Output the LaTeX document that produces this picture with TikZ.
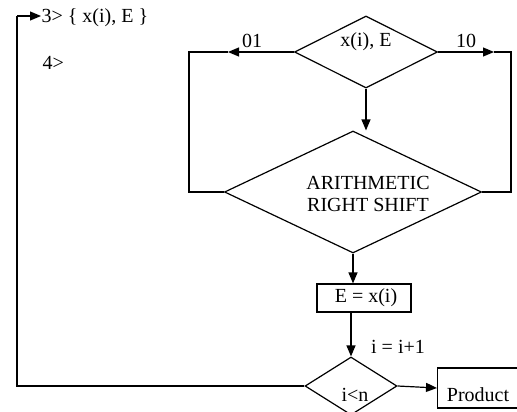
\documentclass[tikz,border=0pt]{standalone}
\usepackage{fontspec}
\setmainfont{Liberation Serif}
\usetikzlibrary{shapes.geometric,arrows.meta}
\begin{document}
\begin{tikzpicture}[x=1pt,y=-1pt,
  line width=1.2pt,
  every node/.style={font=\fontsize{20}{22}\selectfont,inner sep=0pt},
  dia/.style={draw,diamond,inner sep=0pt,line width=1.2pt},
  boxn/.style={draw,rectangle,inner sep=0pt,line width=1.2pt},
  lbl/.style={inner sep=0pt},
  arr/.style={-{Triangle[length=11pt,width=9pt]}}]
\useasboundingbox (0,0) rectangle (517,412);
% shapes
\node[dia,minimum width=143pt,minimum height=72pt] (d1) at (366,52) {};
\node[dia,minimum width=257pt,minimum height=122pt] (d2) at (353,192) {};
\node[boxn,minimum width=94pt,minimum height=28pt] (ebox) at (364,298) {};
\node[dia,minimum width=92pt,minimum height=58pt] (d3) at (351,386) {};
\node[boxn,minimum width=95pt,minimum height=40pt,anchor=west] (prod) at (437,388) {};
% texts
\node[lbl] (td1) at (366,42) {x(i), E};
\node[lbl,align=center] (td2) at (368,194) {ARITHMETIC\\RIGHT SHIFT};
\node[lbl] (te) at (366,298) {E = x(i)};
\node[lbl] (td3) at (355,395) {i<n};
\node[lbl] (tp) at (478,395) {Product};
\node[lbl] (l01) at (252,41) {01};
\node[lbl] (l10) at (466,41) {10};
\node[lbl] (linc) at (398,347) {i = i+1};
\node[lbl,anchor=west] (t3) at (41,18) {3> \{ x(i), E \}};
\node[lbl,anchor=west] (t4) at (42,63) {4>};
% connectors
\coordinate (c01) at (228,52);
\coordinate (cL) at (189,52);
\draw[arr] (d1.west) -- (c01);
\draw (c01) -- (cL) |- (d2.west);
\coordinate (c10) at (494,52);
\coordinate (cR) at (511,52);
\draw[arr] (d1.east) -- (c10);
\draw (c10) -- (cR) |- (d2.east);
\draw[arr] (d1.south) -- (d1.south |- d2.north);
\draw[arr] (d2.south) -- (d2.south |- ebox.north);
\draw[arr] (d3.north |- ebox.south) -- (d3.north);
\draw[arr] (d3.east) -- (prod.west);
\coordinate (cB) at (17,386);
\coordinate (cT) at (17,16);
\coordinate (cA) at (41,16);
\draw (d3.west) -- (cB) -- (cT);
\draw[arr] (cT) -- (cA);
\end{tikzpicture}
\end{document}
